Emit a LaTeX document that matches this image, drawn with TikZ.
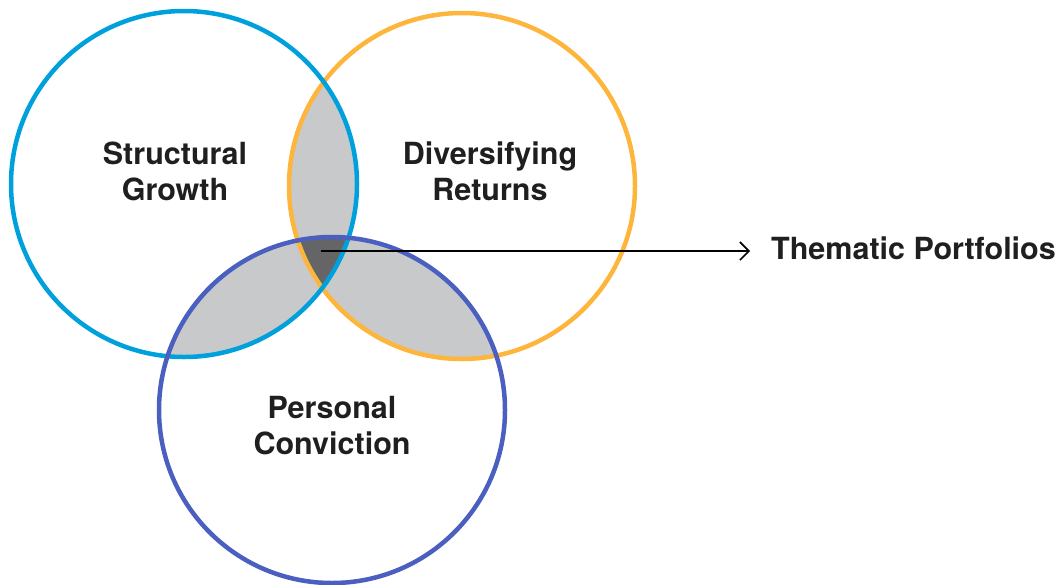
\documentclass[tikz,border=0pt]{standalone}
\usepackage{fontspec}
\setmainfont{TeX Gyre Heros}
\usetikzlibrary{arrows.meta,positioning}
\definecolor{ringblue}{HTML}{00A0DC}
\definecolor{ringorange}{HTML}{FDB53C}
\definecolor{ringpurple}{HTML}{4A5FBF}
\definecolor{lapgray}{HTML}{C8C9CB}
\definecolor{coregray}{HTML}{656567}
\tikzset{
    %Define standard arrow tip
    >={Straight Barb[length=9pt,width=18pt,line width=1.6pt]},
    %Define style for circles
    ring/.style={
           line width=4.5pt},
    %Define style for labels
    lbl/.style={
           font=\fontsize{30.5}{36}\selectfont\bfseries,
           text=black!88,
           align=center,
           inner sep=0pt},
    % Define arrow style
    pil/.style={
           ->,
           line width=1.6pt}
}
\begin{document}
\begin{tikzpicture}[x=1pt,y=-1pt]
    \useasboundingbox (0,0) rectangle (1062,584);
    \coordinate (cb) at (184,184);
    \coordinate (co) at (462,186);
    \coordinate (cp) at (332,410);
    \def\rad{173}
    % pairwise overlaps
    \begin{scope}
        \clip (cb) circle (\rad);
        \fill[lapgray] (co) circle (\rad);
        \fill[lapgray] (cp) circle (\rad);
    \end{scope}
    \begin{scope}
        \clip (co) circle (\rad);
        \fill[lapgray] (cp) circle (\rad);
    \end{scope}
    % triple overlap
    \begin{scope}
        \clip (cb) circle (\rad);
        \clip (co) circle (\rad);
        \fill[coregray] (cp) circle (\rad);
    \end{scope}
    \draw[ring, ringorange] (co) circle (\rad);
    \draw[ring, ringblue] (cb) circle (\rad);
    \draw[ring, ringpurple] (cp) circle (\rad);
    \node[lbl] (growth) at (175,171) {Structural\\Growth};
    \node[lbl] (returns) at (490,171) {Diversifying\\Returns};
    \node[lbl] (convict) at (332,426) {Personal\\Conviction};
    \node[lbl, anchor=west] (thematic) at (771,248) {Thematic Portfolios};
    \coordinate (core) at (321,251);
    \draw[pil] (core) -- ([xshift=-21pt]core -| thematic.west);
\end{tikzpicture}
\end{document}
